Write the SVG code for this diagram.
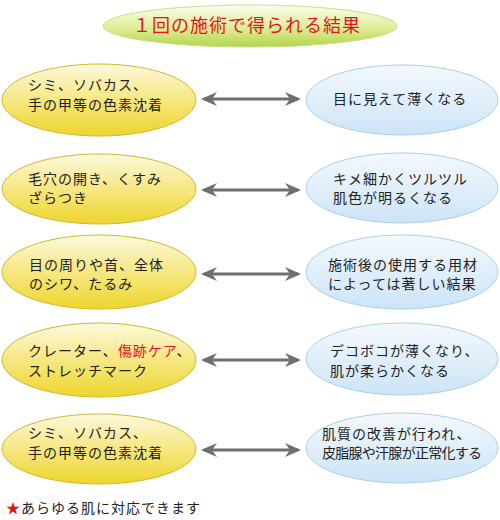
<svg xmlns="http://www.w3.org/2000/svg" width="500" height="520" viewBox="0 0 500 520">
<style>
text{font-family:"Noto Sans CJK JP","Noto Sans CJK SC",sans-serif;}
.t{font-size:14px;fill:#222;letter-spacing:1px;}
.l{fill:url(#gy);stroke:#d2b72c;stroke-width:1;}
.r{fill:url(#gb);stroke:#a9d0ea;stroke-width:1;}
.c{stroke:#6f6f6f;stroke-width:3;fill:none;marker-start:url(#ah);marker-end:url(#ah);}
</style>
<defs>
<linearGradient id="gy" x1="0" y1="0" x2="0" y2="1">
<stop offset="0" stop-color="#fdf9de"/><stop offset="0.45" stop-color="#f7e98a"/><stop offset="1" stop-color="#eed52c"/>
</linearGradient>
<linearGradient id="gb" x1="0" y1="0" x2="0" y2="1">
<stop offset="0" stop-color="#f4f9fd"/><stop offset="1" stop-color="#cce4f6"/>
</linearGradient>
<linearGradient id="gt" x1="0" y1="0" x2="0" y2="1">
<stop offset="0" stop-color="#fbfdee"/><stop offset="0.5" stop-color="#e2ef9e"/><stop offset="1" stop-color="#b3d54c"/>
</linearGradient>
<marker id="ah" viewBox="0 0 16 14" refX="13" refY="7" markerWidth="16" markerHeight="14" markerUnits="userSpaceOnUse" orient="auto-start-reverse">
<path d="M0,0 L16,7 L0,14 L5,7 Z" fill="#6f6f6f"/>
</marker>
</defs>

<g id="title">
<ellipse cx="250" cy="26" rx="147" ry="21" fill="url(#gt)" stroke="#c9df84" stroke-width="1"/>
<text x="247" y="32" text-anchor="middle" font-size="18" fill="#e3141b" letter-spacing="1">１回の施術で得られる結果</text>
</g>

<g id="connectors">
<line class="c" x1="204" y1="99" x2="298" y2="99"/>
<line class="c" x1="204" y1="190" x2="298" y2="190"/>
<line class="c" x1="204" y1="274" x2="298" y2="274"/>
<line class="c" x1="204" y1="360" x2="298" y2="360"/>
<line class="c" x1="204" y1="450" x2="298" y2="450"/>
</g>

<g id="left1">
<ellipse class="l" cx="99" cy="100" rx="97" ry="36"/>
<text class="t" x="28" y="90">シミ、ソバカス、</text>
<text class="t" x="28" y="110">手の甲等の色素沈着</text>
</g>
<g id="right1">
<ellipse class="r" cx="402" cy="100" rx="96" ry="35"/>
<text class="t" x="333" y="104">目に見えて薄くなる</text>
</g>

<g id="left2">
<ellipse class="l" cx="99" cy="189" rx="97" ry="35"/>
<text class="t" x="28" y="184">毛穴の開き、くすみ</text>
<text class="t" x="28" y="203">ざらつき</text>
</g>
<g id="right2">
<ellipse class="r" cx="402" cy="188" rx="96" ry="35"/>
<text class="t" x="333" y="184">キメ細かくツルツル</text>
<text class="t" x="333" y="203">肌色が明るくなる</text>
</g>

<g id="left3">
<ellipse class="l" cx="99" cy="272" rx="97" ry="37"/>
<text class="t" x="29" y="270">目の周りや首、全体</text>
<text class="t" x="29" y="289">のシワ、たるみ</text>
</g>
<g id="right3">
<ellipse class="r" cx="402" cy="272" rx="96" ry="37"/>
<text class="t" x="328" y="270">施術後の使用する用材</text>
<text class="t" x="328" y="289">によっては著しい結果</text>
</g>

<g id="left4">
<ellipse class="l" cx="99" cy="360" rx="97" ry="37"/>
<text class="t" x="28" y="356">クレーター、<tspan fill="#e3141b">傷跡ケア</tspan>、</text>
<text class="t" x="28" y="376">ストレッチマーク</text>
</g>
<g id="right4">
<ellipse class="r" cx="402" cy="359" rx="96" ry="36"/>
<text class="t" x="330" y="356">デコボコが薄くなり、</text>
<text class="t" x="330" y="376">肌が柔らかくなる</text>
</g>

<g id="left5">
<ellipse class="l" cx="99" cy="449" rx="97" ry="35"/>
<text class="t" x="28" y="438">シミ、ソバカス、</text>
<text class="t" x="28" y="458">手の甲等の色素沈着</text>
</g>
<g id="right5">
<ellipse class="r" cx="402" cy="448" rx="96" ry="35"/>
<text class="t" x="322" y="439">肌質の改善が行われ、</text>
<text class="t" x="322" y="458" letter-spacing="0" textLength="161">皮脂腺や汗腺が正常化する</text>
</g>

<g id="footer">
<text x="6" y="513" font-size="14" fill="#e3141b">★</text>
<text class="t" x="21" y="513" letter-spacing="1.5">あらゆる肌に対応できます</text>
</g>
</svg>
